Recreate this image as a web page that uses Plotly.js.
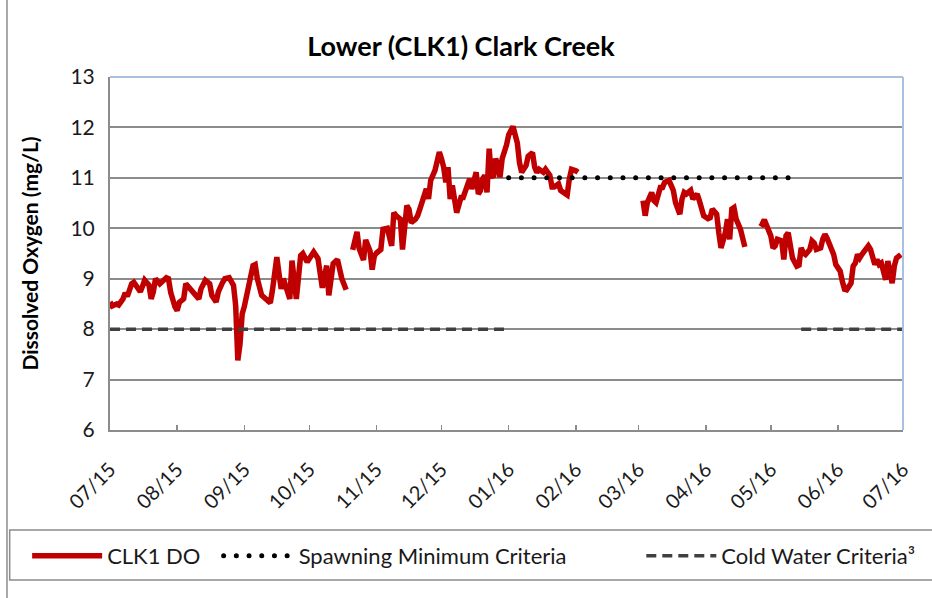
<!DOCTYPE html>
<html>
<head>
<meta charset="utf-8">
<script src="https://cdn.plot.ly/plotly-3.0.1.min.js"></script>
<style>
  html, body { margin: 0; padding: 0; background: #fff; }
  #chart { width: 932px; height: 598px; }
  path[style*="0.01px"] { stroke-linecap: round; }
</style>
</head>
<body>
<div id="chart"></div>
<script>
// Daily dissolved oxygen, CLK1 (mg/L); null marks a data gap
const doDates = [
  '2015-07-01','2015-07-02','2015-07-04','2015-07-05','2015-07-07','2015-07-08','2015-07-09','2015-07-10','2015-07-11','2015-07-12',
  '2015-07-14','2015-07-15','2015-07-16','2015-07-17','2015-07-19','2015-07-20','2015-07-21','2015-07-22','2015-07-24','2015-07-25',
  '2015-07-27','2015-07-28','2015-07-29','2015-07-31','2015-08-01','2015-08-02','2015-08-04','2015-08-05','2015-08-07','2015-08-08',
  '2015-08-09','2015-08-11','2015-08-12','2015-08-14','2015-08-16','2015-08-17','2015-08-19','2015-08-20','2015-08-22','2015-08-23',
  '2015-08-25','2015-08-27','2015-08-28','2015-08-29','2015-08-30','2015-08-31','2015-09-01','2015-09-02','2015-09-04','2015-09-05',
  '2015-09-06','2015-09-07','2015-09-09','2015-09-11','2015-09-13','2015-09-14','2015-09-16','2015-09-17','2015-09-18','2015-09-19',
  '2015-09-21','2015-09-22','2015-09-23','2015-09-24','2015-09-25','2015-09-27','2015-09-28','2015-09-30','2015-10-01','2015-10-03',
  '2015-10-05','2015-10-07','2015-10-09','2015-10-10','2015-10-12','2015-10-14','2015-10-16','2015-10-18',
  '2015-10-20',
  '2015-10-21','2015-10-23','2015-10-24','2015-10-26','2015-10-27','2015-10-29','2015-10-30','2015-10-31','2015-11-01','2015-11-03',
  '2015-11-04','2015-11-06','2015-11-08','2015-11-09','2015-11-10','2015-11-12','2015-11-13','2015-11-15','2015-11-16','2015-11-17',
  '2015-11-19','2015-11-20','2015-11-21','2015-11-23','2015-11-24','2015-11-25','2015-11-26','2015-11-28','2015-11-29','2015-11-30',
  '2015-12-01','2015-12-02','2015-12-03','2015-12-04','2015-12-05','2015-12-06','2015-12-08','2015-12-09','2015-12-10','2015-12-11',
  '2015-12-13','2015-12-14','2015-12-15','2015-12-16','2015-12-17','2015-12-18','2015-12-19','2015-12-20','2015-12-21','2015-12-22',
  '2015-12-23','2015-12-24','2015-12-25','2015-12-26','2015-12-27','2015-12-28','2015-12-29','2015-12-31','2016-01-01','2016-01-03',
  '2016-01-05','2016-01-06','2016-01-07','2016-01-09','2016-01-10','2016-01-12','2016-01-13','2016-01-14','2016-01-15','2016-01-17',
  '2016-01-18','2016-01-20','2016-01-21','2016-01-22','2016-01-24','2016-01-25','2016-01-27','2016-01-28','2016-01-29','2016-01-30',
  '2016-02-01','2016-02-02',
  '2016-02-16',
  '2016-03-03','2016-03-04','2016-03-05','2016-03-07','2016-03-08','2016-03-09','2016-03-11','2016-03-12','2016-03-13','2016-03-15',
  '2016-03-16','2016-03-17','2016-03-18','2016-03-20','2016-03-21','2016-03-22','2016-03-23','2016-03-25','2016-03-26','2016-03-28',
  '2016-03-29','2016-03-30','2016-03-31','2016-04-02','2016-04-03','2016-04-04','2016-04-06','2016-04-07','2016-04-08','2016-04-10',
  '2016-04-11','2016-04-12','2016-04-13','2016-04-14','2016-04-15','2016-04-17','2016-04-18','2016-04-19',
  '2016-04-23',
  '2016-04-26','2016-04-27','2016-04-28','2016-04-29','2016-05-01','2016-05-02','2016-05-03','2016-05-04','2016-05-06','2016-05-07',
  '2016-05-08','2016-05-09','2016-05-10','2016-05-11','2016-05-13','2016-05-14','2016-05-15','2016-05-16','2016-05-17','2016-05-19',
  '2016-05-20','2016-05-21','2016-05-22','2016-05-24','2016-05-25','2016-05-26','2016-05-27','2016-05-29','2016-05-30','2016-05-31',
  '2016-06-02','2016-06-03','2016-06-04','2016-06-05','2016-06-07','2016-06-08','2016-06-09','2016-06-10','2016-06-11','2016-06-12',
  '2016-06-14','2016-06-15','2016-06-16','2016-06-17','2016-06-18','2016-06-19','2016-06-20','2016-06-21','2016-06-23','2016-06-24',
  '2016-06-25','2016-06-26','2016-06-27','2016-06-28','2016-06-30'
];
const doValues = [
  8.54,8.46,8.50,8.48,8.60,8.72,8.65,8.80,8.90,8.93,
  8.78,8.74,8.85,8.97,8.87,8.60,8.74,9.00,8.90,8.95,
  9.02,9.00,8.73,8.44,8.37,8.53,8.60,8.90,8.80,8.73,
  8.67,8.60,8.80,8.97,8.90,8.67,8.54,8.74,8.93,9.00,
  9.02,8.87,8.47,7.38,7.70,8.30,8.45,8.67,9.00,9.26,
  9.28,9.00,8.67,8.60,8.52,8.78,9.43,9.10,8.80,9.00,
  8.67,8.60,9.36,9.05,8.60,9.46,9.50,9.33,9.40,9.53,
  9.40,8.82,9.26,8.67,9.30,9.38,9.00,8.78,
  null,
  9.57,9.93,9.60,9.37,9.77,9.55,9.18,9.45,9.51,9.58,
  9.98,10.00,9.65,10.31,10.25,10.18,9.58,10.45,10.38,10.11,
  10.18,10.25,10.38,10.65,10.78,10.58,10.95,11.15,11.38,11.51,
  11.38,11.21,10.91,11.21,10.58,10.85,10.31,10.51,10.61,10.61,
  10.85,10.98,10.78,10.95,11.11,10.68,10.75,10.98,11.05,10.71,
  11.58,11.05,11.01,11.38,11.25,11.01,11.38,11.65,11.85,12.02,
  11.69,11.30,11.11,11.24,11.43,11.50,11.21,11.11,11.17,11.11,
  11.17,11.05,10.82,10.82,10.88,10.75,10.69,10.66,10.98,11.17,
  11.14,11.11,
  null,
  10.55,10.25,10.51,10.71,10.55,10.51,10.81,10.81,10.91,10.95,
  10.85,10.75,10.51,10.28,10.58,10.71,10.68,10.75,10.58,10.68,
  10.55,10.38,10.25,10.19,10.21,10.38,10.28,9.91,9.61,9.91,
  10.18,9.78,10.38,10.41,10.18,9.98,9.78,9.63,
  null,
  10.11,10.08,10.17,10.05,9.85,9.61,9.65,9.78,9.75,9.38,
  9.85,9.91,9.65,9.41,9.25,9.27,9.61,9.51,9.48,9.58,
  9.75,9.71,9.58,9.61,9.79,9.88,9.80,9.61,9.48,9.28,
  9.15,8.95,8.79,8.78,8.91,9.25,9.31,9.48,9.41,9.48,
  9.58,9.65,9.58,9.41,9.28,9.38,9.28,9.31,8.98,9.35,
  9.15,8.91,9.25,9.41,9.48
];
// Spawning minimum criteria (mg/L)
const spawnDates = ['2016-01-01', '2016-05-12'];
const spawnValues = [11, 11];
// Cold water criteria (mg/L); null separates the two periods
const coldDates = ['2015-07-01', '2015-12-31', '2016-03-01', '2016-05-15', '2016-07-01'];
const coldValues = [8, 8, null, 8, 8];

const seriesNames = ['CLK1 DO', 'Spawning Minimum Criteria', 'Cold Water Criteria\u00B3'];
const yTicks = [6, 7, 8, 9, 10, 11, 12, 13];

const FONT = 'Lato, "Open Sans", sans-serif';
const GRID = '#8c8c8c';

const traces = [
  {
    x: doDates, y: doValues, name: seriesNames[0], type: 'scatter', mode: 'lines',
    line: {color: '#c00000', width: 5.5}, connectgaps: false, legend: 'legend'
  },
  {
    x: spawnDates, y: spawnValues, name: seriesNames[1], type: 'scatter', mode: 'lines',
    line: {color: '#000000', width: 5, dash: '0.01px,12.69px'}, legend: 'legend2'
  },
  {
    x: coldDates, y: coldValues, name: seriesNames[2], type: 'scatter', mode: 'lines',
    line: {color: '#404040', width: 3.5, dash: '10px,6px'}, connectgaps: false, legend: 'legend3'
  }
];

const legendBase = {
  orientation: 'h', yanchor: 'middle', y: -0.357, xanchor: 'left',
  bgcolor: 'rgba(0,0,0,0)', borderwidth: 0, itemwidth: 70,
  font: {family: FONT, size: 22, color: '#1a1a1a'}
};

const layout = {
  width: 932, height: 598,
  margin: {l: 110, r: 29, t: 77, b: 168},
  paper_bgcolor: '#ffffff', plot_bgcolor: '#ffffff',
  font: {family: FONT, color: '#1a1a1a'},
  title: {
    text: '<b>Lower (CLK1) Clark Creek</b>',
    font: {family: FONT, size: 27, color: '#000'},
    xref: 'container', x: 0.4946, xanchor: 'center',
    yref: 'container', y: 1 - 47 / 598, yanchor: 'middle'
  },
  xaxis: {
    type: 'date',
    range: ['2015-07-01', '2016-07-01'],
    tick0: '2015-07-01', dtick: 'M1', tickformat: '%m/%y',
    tickangle: -45,
    tickfont: {family: FONT, size: 20, color: '#1a1a1a'},
    ticks: 'inside', ticklen: 5, tickwidth: 1.5, tickcolor: GRID,
    ticklabelstandoff: 18,
    showgrid: false, showline: true, linecolor: GRID, linewidth: 2,
    zeroline: false, fixedrange: true
  },
  yaxis: {
    range: [6, 13], tickvals: yTicks, ticktext: yTicks.map(String),
    tickfont: {family: FONT, size: 21, color: '#1a1a1a'},
    ticks: '', ticklabelstandoff: 9,
    showgrid: true, gridcolor: GRID, gridwidth: 2,
    showline: true, linecolor: GRID, linewidth: 2,
    zeroline: false, fixedrange: true,
    title: {text: '<b>Dissolved Oxygen (mg/L)</b>', font: {family: FONT, size: 21, color: '#000'}, standoff: 26}
  },
  showlegend: true,
  legend:  Object.assign({}, legendBase, {x: -0.1045}),
  legend2: Object.assign({}, legendBase, {x: 0.1370}),
  legend3: Object.assign({}, legendBase, {x: 0.6700}),
  shapes: [
    // plot-area border (top & right, light blue)
    {type: 'line', xref: 'paper', yref: 'paper', x0: 0, x1: 1, y0: 1, y1: 1, line: {color: '#a9c0e0', width: 2}, layer: 'above'},
    {type: 'line', xref: 'paper', yref: 'paper', x0: 1, x1: 1, y0: 0, y1: 1, line: {color: '#a9c0e0', width: 2}, layer: 'above'},
    // legend frame
    {type: 'rect', xref: 'paper', yref: 'paper', x0: -0.1265, x1: 1.1, y0: -0.2833, y1: -0.4249, line: {color: GRID, width: 1.5}, fillcolor: 'rgba(0,0,0,0)', layer: 'below'},
    // outer chart frame (left edge)
    {type: 'line', xref: 'paper', yref: 'paper', x0: -0.1299, x1: -0.1299, y0: -0.5, y1: 1.25, line: {color: GRID, width: 1.5}, layer: 'below'}
  ]
};

Plotly.newPlot('chart', traces, layout, {displayModeBar: false, staticPlot: true});
</script>
</body>
</html>
